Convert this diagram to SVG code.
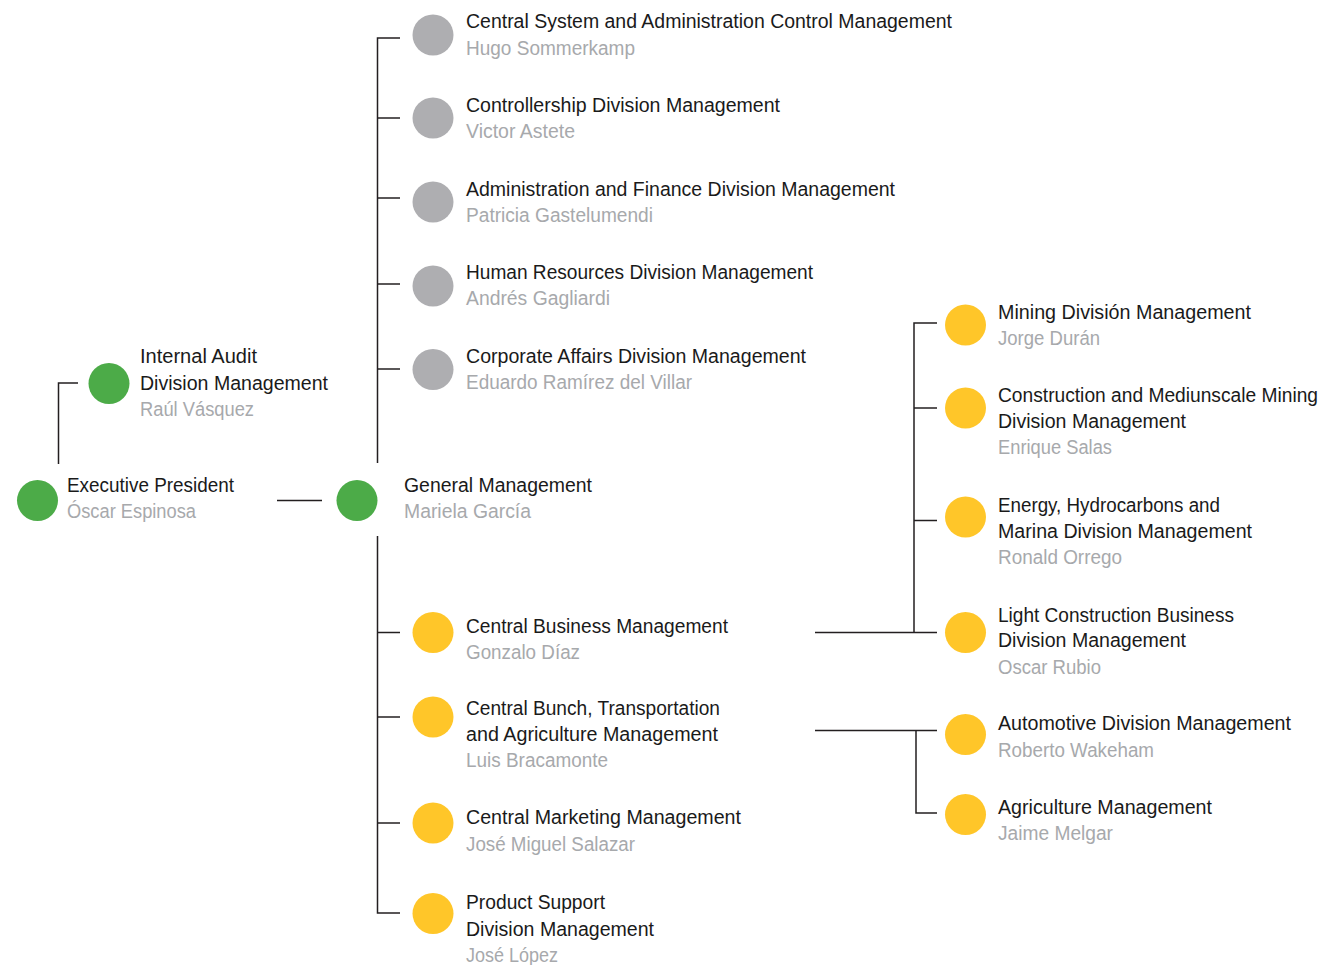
<svg xmlns="http://www.w3.org/2000/svg" width="1325" height="965" viewBox="0 0 1325 965">
  <style>
    text { font-family: "Liberation Sans", Arial, sans-serif; font-size: 20px; }
    .t { fill: #1a1a1a; }
    .n { fill: #a7a9ac; }
    .green { fill: #4cab48; }
    .gray { fill: #aeaeb1; }
    .yellow { fill: #ffc629; }
    .link { fill: none; stroke: #231f20; stroke-width: 1.5; }
  </style>
  <rect width="1325" height="965" fill="#ffffff"/>

  <!-- connectors -->
  <g id="connectors" class="link">
    <path d="M78,383 H58.5 V464"/>
    <path d="M277,500.5 H322"/>
    <!-- upper trunk from General Management -->
    <path d="M400,38 H377.5 V463"/>
    <path d="M377.5,118 H400"/>
    <path d="M377.5,198 H400"/>
    <path d="M377.5,284 H400"/>
    <path d="M377.5,369 H400"/>
    <!-- lower trunk from General Management -->
    <path d="M377.5,536 V913 H400"/>
    <path d="M377.5,632.5 H400"/>
    <path d="M377.5,717 H400"/>
    <path d="M377.5,823 H400"/>
    <!-- Central Business Management divisions -->
    <path d="M815,632.5 H937"/>
    <path d="M937,323 H914 V632.5"/>
    <path d="M914,408 H937"/>
    <path d="M914,520.5 H937"/>
    <!-- Central Bunch divisions -->
    <path d="M815,730.5 H937"/>
    <path d="M916,730.5 V813 H937"/>
  </g>

  <g id="executive-president">
    <circle class="green" cx="37.5" cy="500.5" r="20.5"/>
    <text class="t" x="67" y="492" textLength="167" lengthAdjust="spacingAndGlyphs">Executive President</text>
    <text class="n" x="67" y="518" textLength="129" lengthAdjust="spacingAndGlyphs">Óscar Espinosa</text>
  </g>

  <g id="internal-audit">
    <circle class="green" cx="109" cy="383.5" r="20.5"/>
    <text class="t" x="140" y="363" textLength="117" lengthAdjust="spacingAndGlyphs">Internal Audit</text>
    <text class="t" x="140" y="390" textLength="188" lengthAdjust="spacingAndGlyphs">Division Management</text>
    <text class="n" x="140" y="416" textLength="114" lengthAdjust="spacingAndGlyphs">Raúl Vásquez</text>
  </g>

  <g id="general-management">
    <circle class="green" cx="357" cy="500.5" r="20.5"/>
    <text class="t" x="404" y="492" textLength="188" lengthAdjust="spacingAndGlyphs">General Management</text>
    <text class="n" x="404" y="518" textLength="127" lengthAdjust="spacingAndGlyphs">Mariela García</text>
  </g>

  <g id="central-system-admin-control">
    <circle class="gray" cx="433" cy="35" r="20.5"/>
    <text class="t" x="466" y="28" textLength="486" lengthAdjust="spacingAndGlyphs">Central System and Administration Control Management</text>
    <text class="n" x="466" y="55" textLength="169" lengthAdjust="spacingAndGlyphs">Hugo Sommerkamp</text>
  </g>

  <g id="controllership">
    <circle class="gray" cx="433" cy="118" r="20.5"/>
    <text class="t" x="466" y="112" textLength="314" lengthAdjust="spacingAndGlyphs">Controllership Division Management</text>
    <text class="n" x="466" y="138" textLength="109" lengthAdjust="spacingAndGlyphs">Victor Astete</text>
  </g>

  <g id="administration-finance">
    <circle class="gray" cx="433" cy="202" r="20.5"/>
    <text class="t" x="466" y="196" textLength="429" lengthAdjust="spacingAndGlyphs">Administration and Finance Division Management</text>
    <text class="n" x="466" y="222" textLength="187" lengthAdjust="spacingAndGlyphs">Patricia Gastelumendi</text>
  </g>

  <g id="human-resources">
    <circle class="gray" cx="433" cy="286" r="20.5"/>
    <text class="t" x="466" y="279" textLength="347" lengthAdjust="spacingAndGlyphs">Human Resources Division Management</text>
    <text class="n" x="466" y="305" textLength="144" lengthAdjust="spacingAndGlyphs">Andrés Gagliardi</text>
  </g>

  <g id="corporate-affairs">
    <circle class="gray" cx="433" cy="369.5" r="20.5"/>
    <text class="t" x="466" y="362.5" textLength="340" lengthAdjust="spacingAndGlyphs">Corporate Affairs Division Management</text>
    <text class="n" x="466" y="389" textLength="226" lengthAdjust="spacingAndGlyphs">Eduardo Ramírez del Villar</text>
  </g>

  <g id="central-business">
    <circle class="yellow" cx="433" cy="632.5" r="20.5"/>
    <text class="t" x="466" y="633" textLength="262" lengthAdjust="spacingAndGlyphs">Central Business Management</text>
    <text class="n" x="466" y="659" textLength="114" lengthAdjust="spacingAndGlyphs">Gonzalo Díaz</text>
  </g>

  <g id="central-bunch">
    <circle class="yellow" cx="433" cy="717" r="20.5"/>
    <text class="t" x="466" y="715" textLength="254" lengthAdjust="spacingAndGlyphs">Central Bunch, Transportation</text>
    <text class="t" x="466" y="741" textLength="252" lengthAdjust="spacingAndGlyphs">and Agriculture Management</text>
    <text class="n" x="466" y="767" textLength="142" lengthAdjust="spacingAndGlyphs">Luis Bracamonte</text>
  </g>

  <g id="central-marketing">
    <circle class="yellow" cx="433" cy="823" r="20.5"/>
    <text class="t" x="466" y="824" textLength="275" lengthAdjust="spacingAndGlyphs">Central Marketing Management</text>
    <text class="n" x="466" y="851" textLength="169" lengthAdjust="spacingAndGlyphs">José Miguel Salazar</text>
  </g>

  <g id="product-support">
    <circle class="yellow" cx="433" cy="913.5" r="20.5"/>
    <text class="t" x="466" y="909" textLength="139" lengthAdjust="spacingAndGlyphs">Product Support</text>
    <text class="t" x="466" y="935.5" textLength="188" lengthAdjust="spacingAndGlyphs">Division Management</text>
    <text class="n" x="466" y="962" textLength="92" lengthAdjust="spacingAndGlyphs">José López</text>
  </g>

  <g id="mining">
    <circle class="yellow" cx="965.5" cy="325" r="20.5"/>
    <text class="t" x="998" y="318.5" textLength="253" lengthAdjust="spacingAndGlyphs">Mining División Management</text>
    <text class="n" x="998" y="345" textLength="102" lengthAdjust="spacingAndGlyphs">Jorge Durán</text>
  </g>

  <g id="construction-mediumscale-mining">
    <circle class="yellow" cx="965.5" cy="408" r="20.5"/>
    <text class="t" x="998" y="401.5" font-size="19.5" textLength="320" lengthAdjust="spacingAndGlyphs" style="font-size:19.5px">Construction and Mediunscale Mining</text>
    <text class="t" x="998" y="427.5" textLength="188" lengthAdjust="spacingAndGlyphs">Division Management</text>
    <text class="n" x="998" y="454" textLength="114" lengthAdjust="spacingAndGlyphs">Enrique Salas</text>
  </g>

  <g id="energy-hydrocarbons-marina">
    <circle class="yellow" cx="965.5" cy="517" r="20.5"/>
    <text class="t" x="998" y="512" textLength="222" lengthAdjust="spacingAndGlyphs">Energy, Hydrocarbons and</text>
    <text class="t" x="998" y="537.5" textLength="254" lengthAdjust="spacingAndGlyphs">Marina Division Management</text>
    <text class="n" x="998" y="563.5" textLength="124" lengthAdjust="spacingAndGlyphs">Ronald Orrego</text>
  </g>

  <g id="light-construction">
    <circle class="yellow" cx="965.5" cy="632.5" r="20.5"/>
    <text class="t" x="998" y="621.5" textLength="236" lengthAdjust="spacingAndGlyphs">Light Construction Business</text>
    <text class="t" x="998" y="647" textLength="188" lengthAdjust="spacingAndGlyphs">Division Management</text>
    <text class="n" x="998" y="673.5" textLength="103" lengthAdjust="spacingAndGlyphs">Oscar Rubio</text>
  </g>

  <g id="automotive">
    <circle class="yellow" cx="965.5" cy="734.5" r="20.5"/>
    <text class="t" x="998" y="730" textLength="293" lengthAdjust="spacingAndGlyphs">Automotive Division Management</text>
    <text class="n" x="998" y="757" textLength="156" lengthAdjust="spacingAndGlyphs">Roberto Wakeham</text>
  </g>

  <g id="agriculture">
    <circle class="yellow" cx="965.5" cy="814.5" r="20.5"/>
    <text class="t" x="998" y="813.5" textLength="214" lengthAdjust="spacingAndGlyphs">Agriculture Management</text>
    <text class="n" x="998" y="840" textLength="115" lengthAdjust="spacingAndGlyphs">Jaime Melgar</text>
  </g>
</svg>
